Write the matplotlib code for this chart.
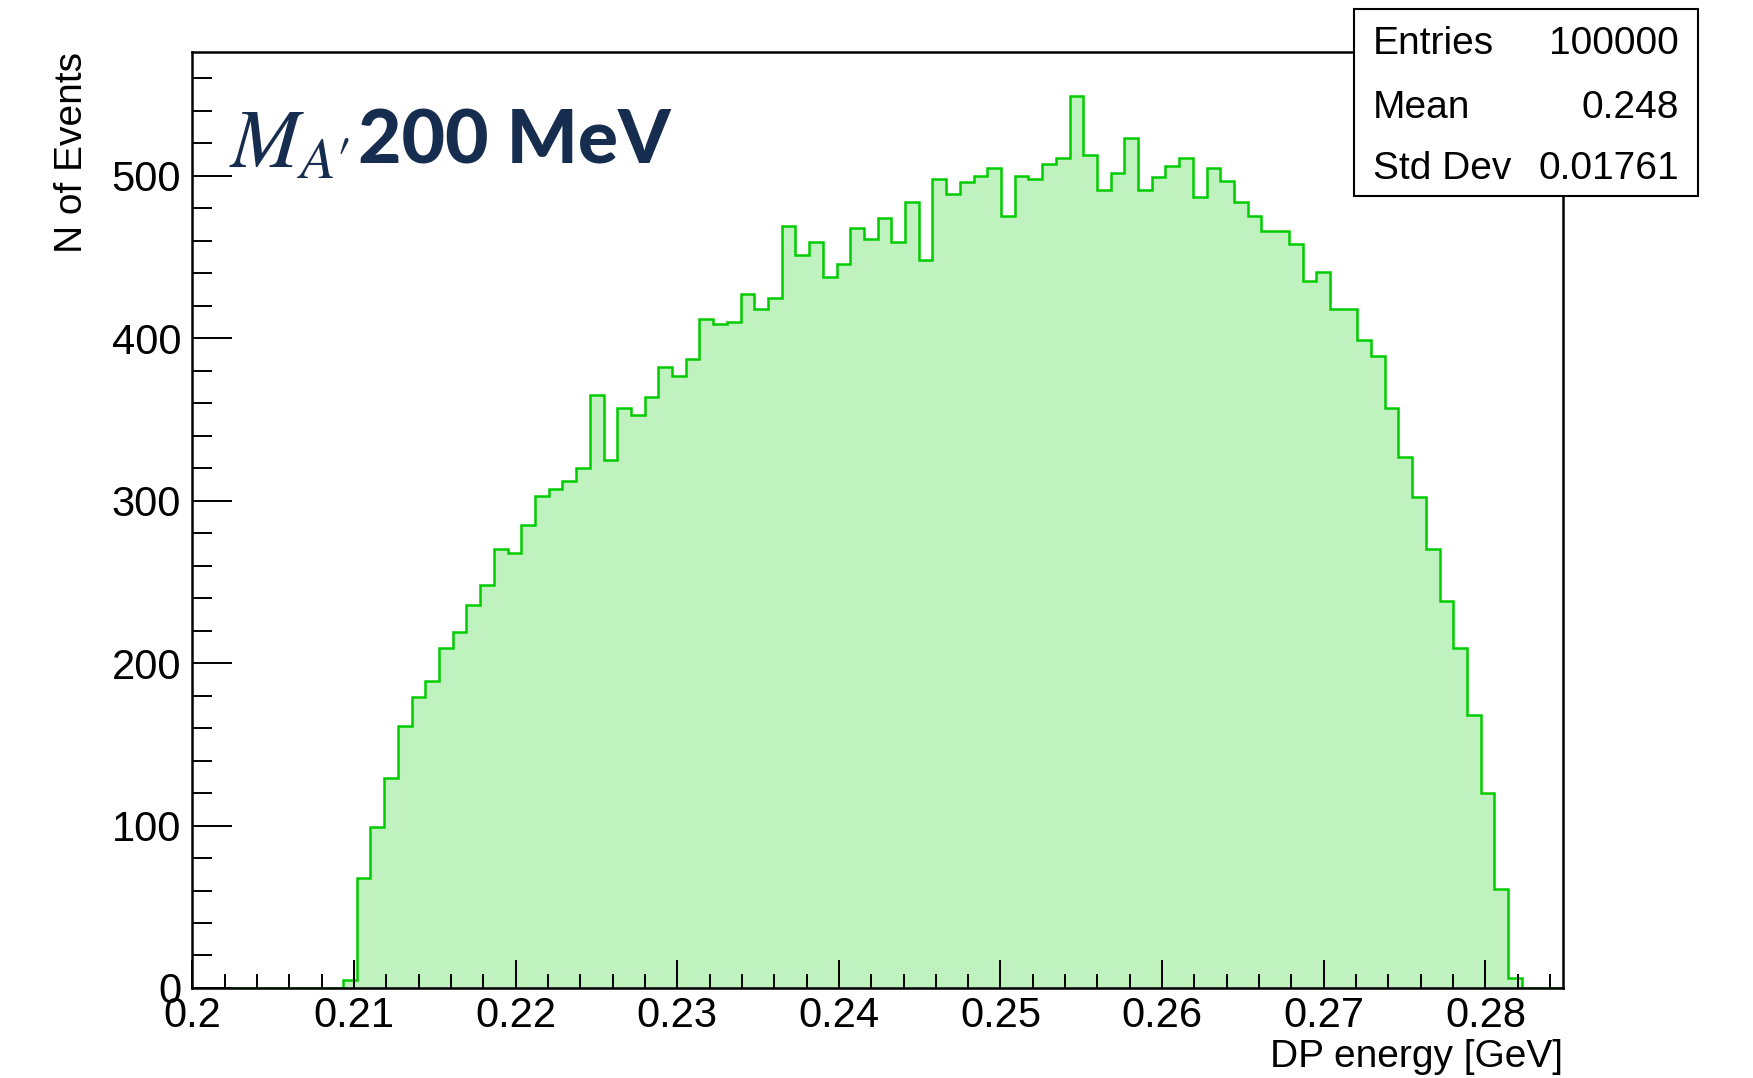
import numpy as np
import matplotlib
matplotlib.use('Agg')
import matplotlib.pyplot as plt
from matplotlib.patches import Rectangle
from matplotlib.ticker import MultipleLocator

# histogram: 100 bins between 0.2 and 0.2848 GeV (counts)
x_lo, x_hi, n_bins = 0.2, 0.2848, 100
counts = [0] * 11 + [
    5, 68, 99, 129, 161, 179, 189, 209, 219, 236,
    248, 270, 268, 285, 303, 307, 312, 320, 365, 325,
    357, 353, 364, 382, 377, 387, 412, 409, 410, 427,
    418, 425, 469, 451, 459, 438, 446, 468, 461, 474,
    459, 484, 448, 498, 489, 496, 500, 505, 475, 500,
    498, 507, 511, 549, 513, 491, 502, 523, 491, 499,
    506, 511, 487, 505, 497, 484, 475, 466, 466, 458,
    435, 441, 418, 418, 399, 389, 357, 327, 302, 270,
    238, 209, 168, 120, 61, 6,
] + [0] * 3

x_ticks = [0.2, 0.21, 0.22, 0.23, 0.24, 0.25, 0.26, 0.27, 0.28]
x_ticklabels = ['0.2', '0.21', '0.22', '0.23', '0.24', '0.25', '0.26', '0.27', '0.28']
y_ticks = [0, 100, 200, 300, 400, 500]

stats_names = ['Entries', 'Mean', 'Std Dev']
stats_values = ['100000', '0.248', '0.01761']

plt.rcParams['font.family'] = ['Liberation Sans', 'DejaVu Sans']
plt.rcParams['mathtext.fontset'] = 'stix'

edges = np.linspace(x_lo, x_hi, n_bins + 1)

fig = plt.figure(figsize=(17.53, 10.78), dpi=100)
ax = fig.add_axes([0.1097, 0.0835, 0.7819, 0.8687])

ax.stairs(counts, edges, fill=True, color='#c0f2c0', linewidth=0)
ax.stairs(counts, edges, color='#00cc00', linewidth=1.8)

ax.set_xlim(x_lo, x_hi)
ax.set_ylim(0, 576.5)

ax.set_xticks(x_ticks)
ax.set_xticklabels(x_ticklabels)
ax.xaxis.set_minor_locator(MultipleLocator(0.002))
ax.set_yticks(y_ticks)
ax.yaxis.set_minor_locator(MultipleLocator(20))

ax.tick_params(axis='both', which='both', direction='in', width=1.4,
               top=False, right=False, labelsize=30, colors='black')
ax.tick_params(axis='y', which='major', length=29, pad=8)
ax.tick_params(axis='y', which='minor', length=14.5)
ax.tick_params(axis='x', which='major', length=20, pad=6)
ax.tick_params(axis='x', which='minor', length=10)

for sp in ax.spines.values():
    sp.set_linewidth(1.8)
    sp.set_color('black')

ax.set_xlabel('DP energy [GeV]', fontsize=28, loc='right')
ax.xaxis.set_label_coords(1.0, -0.054)
ax.xaxis.label.set_va('top')
ax.set_ylabel('N of Events', fontsize=28, loc='top')
ax.yaxis.set_label_coords(-0.075, 1.0)

# label in the upper left
ax.text(0.027, 0.876, r"$M_{A\prime}$", transform=ax.transAxes, fontsize=60,
        color='#172d4f', ha='left', va='baseline')
ax.text(0.121, 0.88, '200 MeV', transform=ax.transAxes, fontsize=54,
        fontweight='black', family=['Lato', 'DejaVu Sans'],
        color='#172d4f', ha='left', va='baseline')

# stats box (ROOT style)
box = Rectangle((0.7724, 0.818), 0.1962, 0.1737, transform=fig.transFigure,
                facecolor='white', edgecolor='black', linewidth=1.5, zorder=10)
fig.add_artist(box)
row_y = [1 - 44 / 1078, 1 - 108 / 1078, 1 - 169 / 1078]
for name, val, yy in zip(stats_names, stats_values, row_y):
    fig.text(1373 / 1753, yy, name, fontsize=28, ha='left', va='center', zorder=11)
    fig.text(1679 / 1753, yy, val, fontsize=28, ha='right', va='center', zorder=11)

fig.savefig('out.png', dpi=100, facecolor='white')
